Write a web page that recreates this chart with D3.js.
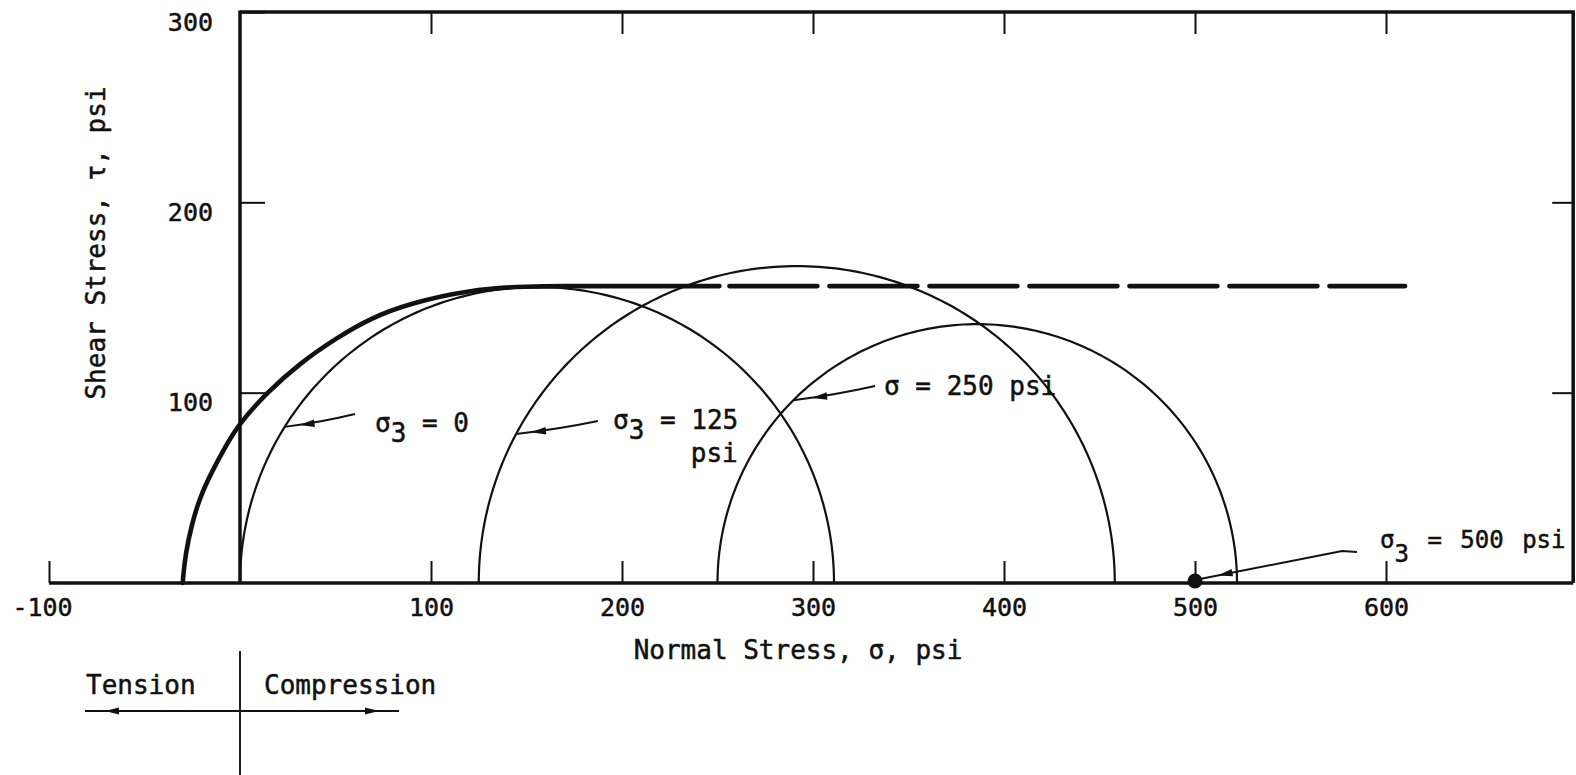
<!DOCTYPE html>
<html>
<head>
<meta charset="utf-8">
<script src="https://cdn.jsdelivr.net/npm/d3@7"></script>
<style>
  html, body { margin: 0; padding: 0; background: #fff; }
  svg { display: block; }
  text { font-family: "DejaVu Sans Mono", monospace; fill: #111; stroke: #111; stroke-width: 0.5px; white-space: pre; }
</style>
</head>
<body>
<svg id="chart" width="1576" height="775"></svg>
<script>
// Mohr circles at failure for three confining pressures (psi)
const sigma3 = [0, 125, 250];        // minor principal stress
const sigma1 = [311, 458, 522];      // major principal stress at failure
const pointSigma = [500];            // sigma3 = 500 psi test, plotted as a point

// curved tension-side envelope that merges into the horizontal cutoff
const envSigma = [-30, -29.5, -28.5, -25.5, -21, -15, -8, -1, 14, 32, 51, 68, 89, 120, 150, 175];
const envTau   = [0, 6, 15, 30, 45, 58, 71, 83, 100, 116, 129, 139, 147, 154, 156, 156];
const cutoffTau = 156;
const cutoffSolidEnd = 251;
const cutoffEnd = 610;

const xTicks = [-100, 100, 200, 300, 400, 500, 600];
const yTicks = [100, 200, 300];
const frameRight = 698;

const ink = "#111";
const svg = d3.select("#chart");

const x = d3.scaleLinear().domain([-100, 700]).range([49, 1577]);
const y = d3.scaleLinear().domain([0, 300]).range([583, 12]);
const lineXY = d3.line().x(d => x(d[0])).y(d => y(d[1]));

// frame: top and right borders
svg.append("path")
  .attr("d", `M${x(0)},${y(300)}H${x(frameRight)}V${y(0)}`)
  .attr("fill", "none").attr("stroke", ink).attr("stroke-width", 3.5);

// tau axis at sigma = 0
svg.append("line")
  .attr("x1", x(0)).attr("x2", x(0)).attr("y1", y(300) - 1.5).attr("y2", y(0))
  .attr("stroke", ink).attr("stroke-width", 3.5);

// sigma axis
svg.append("line")
  .attr("x1", x(-100)).attr("x2", x(frameRight)).attr("y1", y(0)).attr("y2", y(0))
  .attr("stroke", ink).attr("stroke-width", 3.5);

function styleAxis(g, fontSize) {
  g.attr("font-family", null).attr("font-size", null);
  g.select(".domain").remove();
  g.selectAll(".tick line").attr("stroke", ink).attr("stroke-width", 2);
  g.selectAll(".tick text").attr("fill", ink).style("font-size", fontSize + "px");
}

// bottom ticks (pointing up) with labels
const gx = svg.append("g")
  .attr("transform", `translate(0,${y(0)})`)
  .call(d3.axisBottom(x).tickValues(xTicks).tickSize(-22).tickPadding(15)
    .tickFormat(d => String(d)));
styleAxis(gx, 25);
gx.selectAll(".tick text").filter(d => d < 0).attr("dx", -7);

// left ticks (pointing right) with labels
const gy = svg.append("g")
  .attr("transform", `translate(${x(0)},0)`)
  .call(d3.axisLeft(y).tickValues(yTicks).tickSize(-25).tickPadding(27)
    .tickFormat(d => String(d)));
styleAxis(gy, 25);
gy.selectAll(".tick text").attr("dy", "0.72em");

// top ticks (pointing down)
const gt = svg.append("g")
  .attr("transform", `translate(0,${y(300)})`)
  .call(d3.axisTop(x).tickValues(xTicks.filter(d => d > 0)).tickSize(-22).tickFormat(""));
styleAxis(gt, 25);

// right ticks (pointing left)
const gr = svg.append("g")
  .attr("transform", `translate(${x(frameRight)},0)`)
  .call(d3.axisRight(y).tickValues(yTicks.filter(d => d < 300)).tickSize(-21).tickFormat(""));
styleAxis(gr, 25);

// Mohr circles (upper halves)
const circles = sigma3.map((s3, i) => ({ c: (s3 + sigma1[i]) / 2, r: (sigma1[i] - s3) / 2 }));
circles.forEach(({ c, r }) => {
  const pts = d3.range(0, 181).map(a => {
    const t = a * Math.PI / 180;
    return [c + r * Math.cos(t), r * Math.sin(t)];
  });
  svg.append("path").attr("d", lineXY(pts))
    .attr("fill", "none").attr("stroke", ink).attr("stroke-width", 2.2);
});

// failure envelope: smooth curved part, then solid cutoff
const envPts = envSigma.map((s, i) => [s, envTau[i]]);
const envPath = d3.line().x(d => x(d[0])).y(d => y(d[1])).curve(d3.curveBasis)(envPts)
  + `L${x(cutoffSolidEnd)},${y(cutoffTau)}`;
svg.append("path")
  .attr("d", envPath)
  .attr("fill", "none").attr("stroke", ink).attr("stroke-width", 4.6)
  .attr("stroke-linecap", "round").attr("stroke-linejoin", "round");

// dashed continuation of the cutoff
svg.append("line")
  .attr("x1", x(cutoffSolidEnd)).attr("x2", x(cutoffEnd))
  .attr("y1", y(cutoffTau)).attr("y2", y(cutoffTau))
  .attr("stroke", ink).attr("stroke-width", 4.6)
  .attr("stroke-linecap", "round")
  .attr("stroke-dasharray", "88 12").attr("stroke-dashoffset", 90);

// sigma3 = 500 psi point
svg.selectAll("circle.pt").data(pointSigma).enter().append("circle")
  .attr("class", "pt")
  .attr("cx", d => x(d)).attr("cy", y(0) - 2).attr("r", 7.5).attr("fill", ink);

// ---- annotations ----
function arrowHead(tip, dir, len = 15, half = 3.8) {
  const [ux, uy] = dir;
  const bx = tip[0] - ux * len, by = tip[1] - uy * len;
  const px = -uy * half, py = ux * half;
  svg.append("path")
    .attr("d", `M${tip[0]},${tip[1]}L${bx + px},${by + py}L${bx - px},${by - py}Z`)
    .attr("fill", ink);
}

function label(px, py, parts, size, extra = {}) {
  const t = svg.append("text").attr("x", px).attr("y", py).style("font-size", size + "px");
  Object.entries(extra).forEach(([k, v]) => t.style(k, v));
  parts.forEach(([s, sub]) => {
    const ts = t.append("tspan").text(s);
    if (sub) ts.attr("dy", sub);
  });
  return t;
}

function leader(from, to, bow, headGap) {
  const [sx, sy] = from, [ex, ey] = to;
  const mx = (sx + ex) / 2, my = (sy + ey) / 2;
  const dx = ex - sx, dy = ey - sy, L = Math.hypot(dx, dy);
  const cx = mx - dy / L * bow, cy = my + dx / L * bow;
  svg.append("path").attr("d", `M${sx},${sy}Q${cx},${cy} ${ex},${ey}`)
    .attr("fill", "none").attr("stroke", ink).attr("stroke-width", 1.9);
  const tx = ex - cx, ty = ey - cy, tl = Math.hypot(tx, ty);
  const u = [tx / tl, ty / tl];
  arrowHead([ex - u[0] * headGap, ey - u[1] * headGap], u);
}

// point on the left side of a circle at a given shear stress
function leftHit(i, tau) {
  const { c, r } = circles[i];
  return [x(c - Math.sqrt(r * r - tau * tau)), y(tau)];
}

// sigma3 = 0
label(x(70.7), y(79.3), [["σ"], ["3", 10], [" = 0", -10]], 26);
leader([x(60.2), y(88.8)], leftHit(0, 82), -2, 15);

// sigma3 = 125 psi
label(x(195.3), y(80.9), [["σ"], ["3", 10], [" = 125", -10]], 26);
label(x(236), y(63.6), [["psi"]], 26);
leader([x(187.4), y(85.1)], leftHit(1, 78.3), -2, 15);

// sigma = 250 psi
label(x(337.2), y(98.8), [["σ = 250 psi"]], 26);
leader([x(332.5), y(103.5)], leftHit(2, 96), -2, 19);

// sigma3 = 500 psi
label(x(596.9), y(18.4), [["σ"], ["3", 14], [" = 500 psi", -14]], 24, { "word-spacing": "4px" });
{
  const s = [x(584.8), y(16.3)], b = [x(577), y(16.8)], e = [x(pointSigma[0]) + 5, y(0) - 4];
  svg.append("path").attr("d", `M${s[0]},${s[1]}L${b[0]},${b[1]}L${e[0]},${e[1]}`)
    .attr("fill", "none").attr("stroke", ink).attr("stroke-width", 1.9);
  const dx = e[0] - b[0], dy = e[1] - b[1], L = Math.hypot(dx, dy);
  const u = [dx / L, dy / L];
  arrowHead([e[0] - u[0] * 18, e[1] - u[1] * 18], u);
}

// axis titles
svg.append("text").attr("x", 798).attr("y", 659).attr("text-anchor", "middle")
  .style("font-size", "26px").text("Normal Stress, σ, psi");
svg.append("text").attr("transform", "translate(105,243) rotate(-90)")
  .attr("text-anchor", "middle").style("font-size", "26px").text("Shear Stress, τ, psi");

// tension / compression key
const keyY = 711;
svg.append("line").attr("x1", x(0)).attr("x2", x(0)).attr("y1", 651).attr("y2", 775)
  .attr("stroke", ink).attr("stroke-width", 1.9);
svg.append("line").attr("x1", 85).attr("x2", 399).attr("y1", keyY).attr("y2", keyY)
  .attr("stroke", ink).attr("stroke-width", 1.9);
arrowHead([105, keyY], [-1, 0], 14, 3.5);
arrowHead([379, keyY], [1, 0], 14, 3.5);
svg.append("text").attr("x", 86).attr("y", 694).style("font-size", "26px").text("Tension");
svg.append("text").attr("x", 264).attr("y", 694).style("font-size", "26px").text("Compression");
</script>
</body>
</html>
